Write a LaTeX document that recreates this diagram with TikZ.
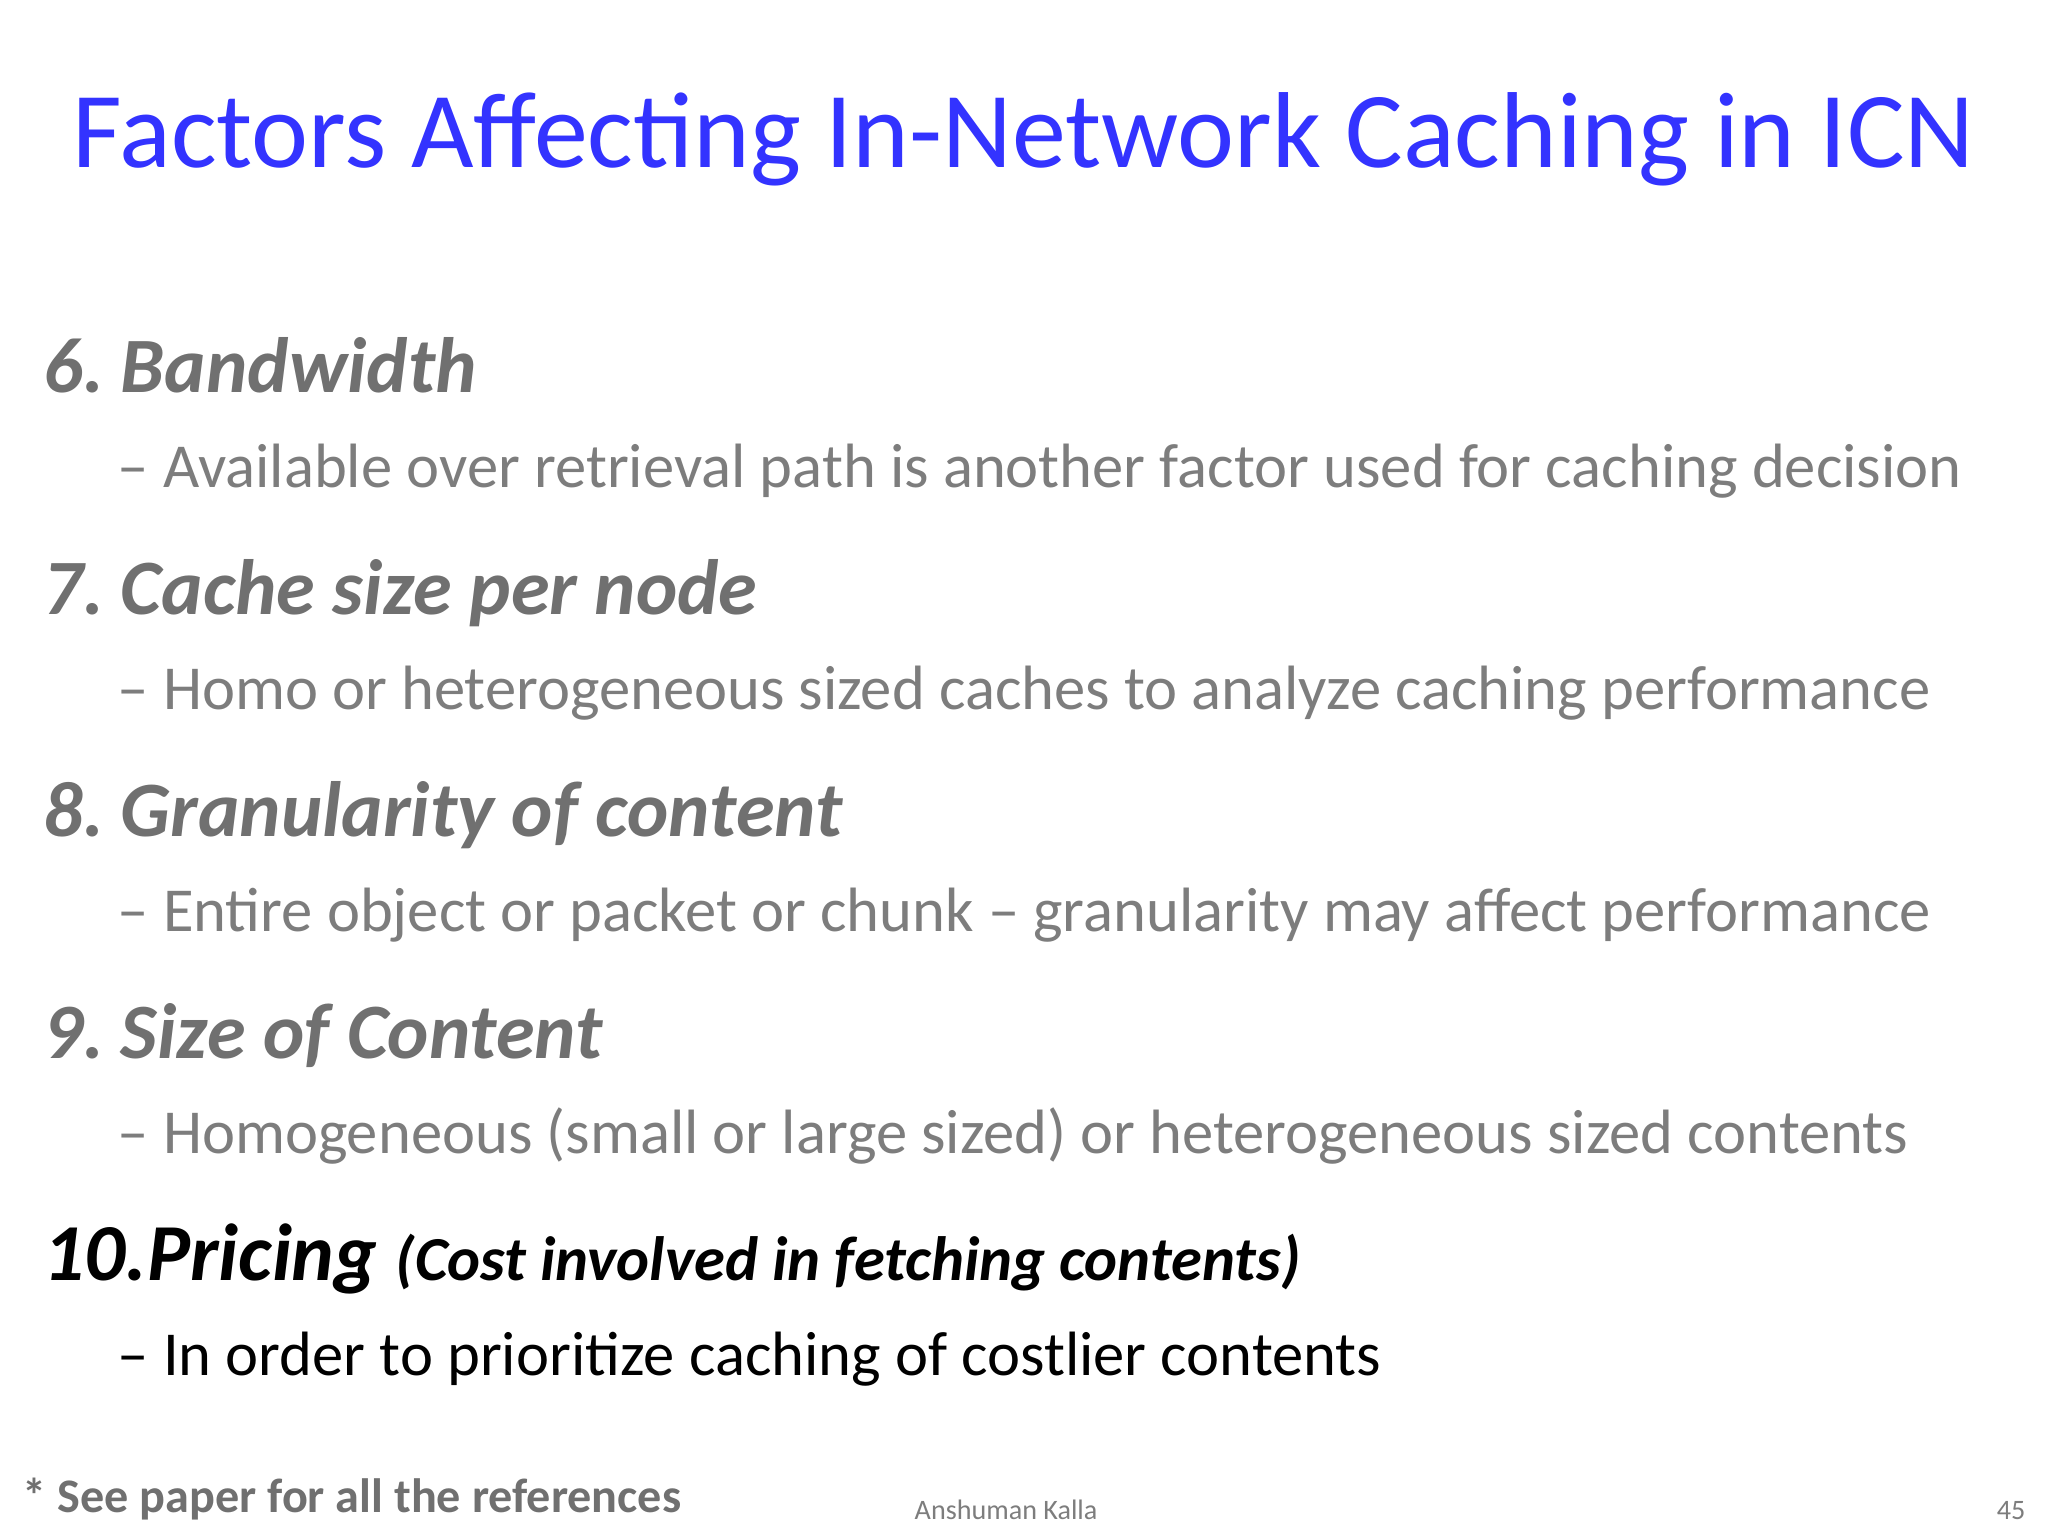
\documentclass[tikz,border=0pt]{standalone}
\usepackage{fontspec}
\setmainfont{Carlito}
\definecolor{ttl}{RGB}{51,51,255}
\definecolor{gr}{RGB}{125,125,125}
\definecolor{hg}{RGB}{112,112,112}
\begin{document}
\begin{tikzpicture}[x=0.01cm,y=-0.01cm,
  ttlstyle/.style={anchor=base west,inner sep=0,text=ttl,font=\fontsize{30.7}{36}\selectfont},
  head/.style={anchor=base west,inner sep=0,text=hg,font=\fontsize{22.3}{26}\selectfont\bfseries\itshape},
  bul/.style={anchor=base west,inner sep=0,text=gr,font=\fontsize{17.8}{22}\selectfont},
  foot/.style={anchor=base west,inner sep=0,font=\fontsize{8}{10}\selectfont,text=gr}]
\fill[white] (0,0) rectangle (2048,1536);
\useasboundingbox (0,0) rectangle (2048,1536);
\node[ttlstyle] (t) at (72,167) {Factors Affecting In-Network Caching in ICN};
\node[head] (h6) at (43,392) {6.\kern-2pt{} Bandwidth};
\node[bul] (b6) at (117,487) {– Available over retrieval path is another factor used for caching decision};
\node[head] (h7) at (43,614) {7.\kern-2pt{} Cache size per node};
\node[bul] (b7) at (117,709) {– Homo or heterogeneous sized caches to analyze caching performance};
\node[head] (h8) at (43,836) {8.\kern-2pt{} Granularity of content};
\node[bul] (b8) at (117,931) {– Entire object or packet or chunk – granularity may affect performance};
\node[head] (h9) at (43,1058) {9.\kern-2pt{} Size of Content};
\node[bul] (b9) at (117,1153) {– Homogeneous (small or large sized) or heterogeneous sized contents};
\node[head,text=black,font=\fontsize{23}{27}\selectfont\bfseries\itshape] (h10) at (43,1280) {10.Pricing {\fontsize{17.8}{22}\selectfont (Cost involved in fetching contents)}};
\node[bul,text=black] (b10) at (117,1375) {– In order to prioritize caching of costlier contents};
\node[anchor=base west,inner sep=0,text=hg,font=\fontsize{13.7}{16}\selectfont\bfseries] (fn) at (22,1512) {* See paper for all the references};
\node[foot] (au) at (914,1519) {Anshuman Kalla};
\node[foot,anchor=base east] (pg) at (2026,1519) {45};
\end{tikzpicture}
\end{document}
